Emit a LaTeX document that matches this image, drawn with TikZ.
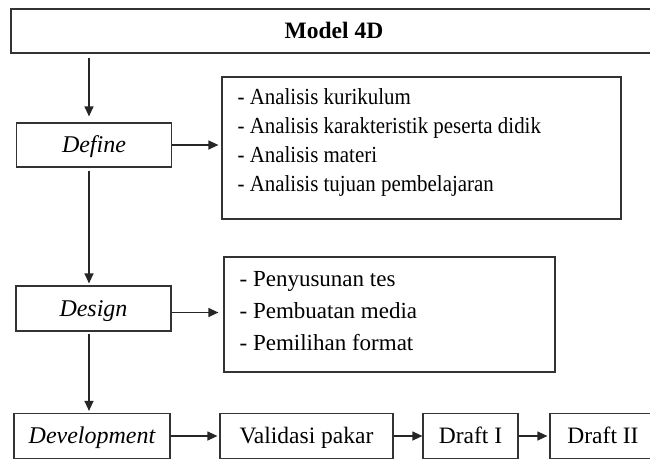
\documentclass[tikz,border=0pt]{standalone}
\usepackage{fontspec}
\setmainfont{Liberation Serif}
\newfontfamily\narrowserif{Liberation Serif}[FakeStretch=0.91]
\usetikzlibrary{arrows.meta}

\begin{document}
\begin{tikzpicture}[
  x=1pt, y=-1pt,
  line width=1.2pt,
  stage/.style={rectangle, draw=black!80, minimum width=155pt, minimum height=44pt, inner sep=0pt, text height=16pt, text depth=1pt, font=\fontsize{24}{28}\selectfont\itshape},
  block/.style={rectangle, draw=black!80, minimum height=45pt, inner sep=0pt, text height=16pt, text depth=1pt, font=\fontsize{23.5}{28}\selectfont},
  listbox/.style={rectangle, draw=black!80, inner sep=0pt},
  listtext/.style={anchor=west, align=left, inner sep=0pt},
  arrow/.style={draw=black!85, -{Triangle[length=10pt,width=9pt]}}
]
\useasboundingbox (0,0) rectangle (650,458);
\clip (0,0) rectangle (650,458);

% Title
\node[block, minimum width=646pt, minimum height=44pt, font=\fontsize{23.5}{28}\selectfont\bfseries] (model) at (334,31) {Model 4D};

% Stages
\node[stage] (define) at (94,145) {Define};
\node[stage, minimum height=45pt] (design) at (93.5,308.5) {Design};
\node[stage, minimum width=156pt, minimum height=45pt] (develop) at (92,436) {Development};
\coordinate (spine) at (89,0);

% Detail boxes
\node[listbox, minimum width=399pt, minimum height=142pt] (analisis) at (421.5,148) {};
\node[listtext, font=\narrowserif\fontsize{23}{29}\selectfont] (analisistext) at (237,142)
  {- Analisis kurikulum\\- Analisis karakteristik peserta didik\\- Analisis materi\\- Analisis tujuan pembelajaran};
\node[listbox, minimum width=331pt, minimum height=115pt] (susun) at (389.5,314.5) {};
\node[listtext, font=\fontsize{23}{32}\selectfont] (susuntext) at (239,311)
  {- Penyusunan tes\\- Pembuatan media\\- Pemilihan format};

% Development row
\node[block, minimum width=173pt] (validasi) at (306.5,436) {Validasi pakar};
\node[block, minimum width=95pt] (draftI) at (470.5,436) {Draft I};
\node[block, minimum width=106pt] (draftII) at (603,436) {Draft II};

% Arrows
\draw[arrow, shorten <=4pt, shorten >=6pt] (model.south -| spine) -- (define.north -| spine);
\draw[arrow, shorten <=3pt, shorten >=2pt] (define.south -| spine) -- (design.north -| spine);
\draw[arrow, shorten <=2pt, shorten >=2pt] (design.south -| spine) -- (develop.north -| spine);
\draw[arrow, shorten >=3pt] (define.east) -- (define.east -| analisis.west);
\draw[arrow, shorten >=5pt] ([yshift=-4pt]design.east) -- ([yshift=-4pt]design.east -| susun.west);
\draw[arrow, shorten >=2pt] (develop.east) -- (validasi.west);
\draw[arrow] (validasi.east) -- (draftI.west);
\draw[arrow, shorten >=2pt] (draftI.east) -- (draftII.west);
\end{tikzpicture}
\end{document}
